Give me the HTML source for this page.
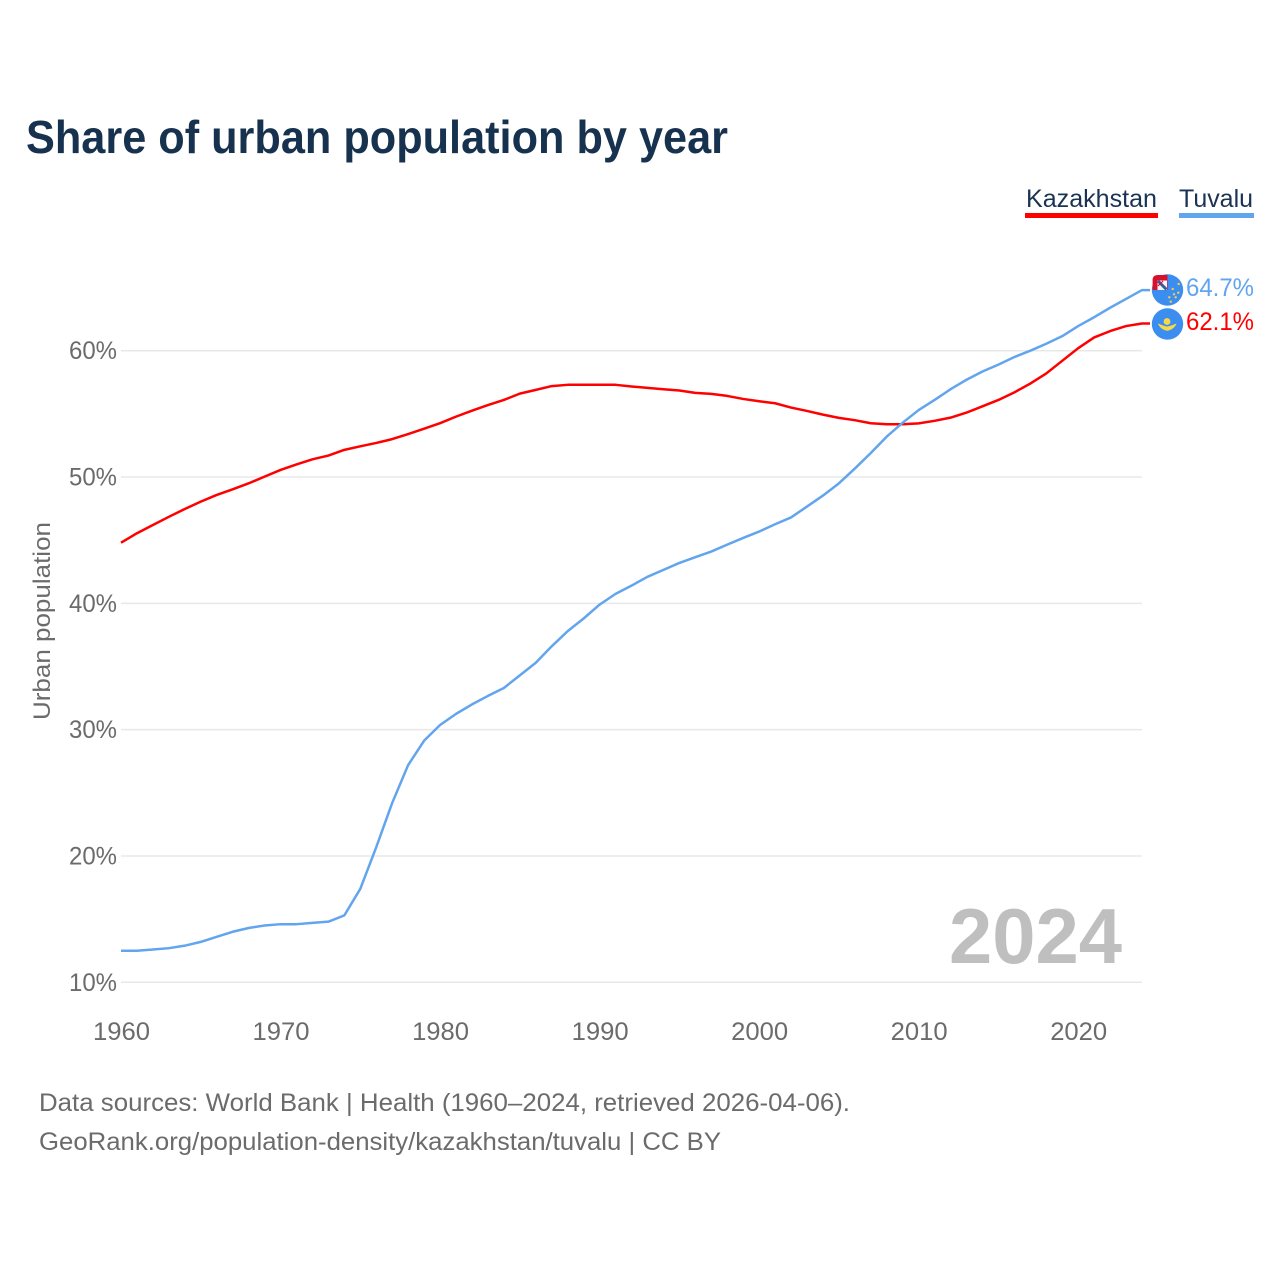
<!DOCTYPE html>
<html lang="en">
<head>
<meta charset="utf-8">
<title>Share of urban population by year</title>
<style>
html,body{margin:0;padding:0;background:#fff;}
svg{display:block;}
text{font-family:"Liberation Sans",sans-serif;}
</style>
</head>
<body>
<svg id="chart" width="1280" height="1280" viewBox="0 0 1280 1280" xmlns="http://www.w3.org/2000/svg">
  <defs>
    <clipPath id="clip-tv"><circle cx="1167.5" cy="290" r="15.7"/></clipPath>
    <clipPath id="clip-kz"><circle cx="1167.5" cy="324" r="15.7"/></clipPath>
  </defs>
  <text x="26" y="153" font-size="46" font-weight="700" fill="#17324f" textLength="702" lengthAdjust="spacingAndGlyphs">Share of urban population by year</text>

  <g>
    <text x="1026" y="207" font-size="25" fill="#1a3353" textLength="131" lengthAdjust="spacingAndGlyphs">Kazakhstan</text>
    <rect x="1025" y="213" width="133" height="5" fill="#ff0000"/>
  </g>
  <g>
    <text x="1179" y="207" font-size="25" fill="#1a3353" textLength="74" lengthAdjust="spacingAndGlyphs">Tuvalu</text>
    <rect x="1179" y="213" width="75" height="5" fill="#62a5ee"/>
  </g>

  <g id="grid"></g>
  <g id="y-ticks"></g>
  <g id="x-ticks"></g>
  <text transform="translate(50,621) rotate(-90)" text-anchor="middle" font-size="24" fill="#6b6b6b" textLength="198" lengthAdjust="spacingAndGlyphs">Urban population</text>

  <text x="1122" y="963" text-anchor="end" font-size="78" font-weight="700" fill="#bfbfbf" textLength="173" lengthAdjust="spacingAndGlyphs">2024</text>

  <g id="series"></g>

  <g>
    <circle cx="1167.5" cy="290" r="15.7" fill="#3b8ef0"/>
    <path d="M1152.6 290V280Q1152.6 275 1158 275H1167.5V290Z" fill="#d8102c"/>
    <rect x="1157.5" y="280.5" width="9.5" height="9.5" fill="#f4f4f8"/>
    <path d="M1158 281L1166.5 289.5" stroke="#3a5a9a" stroke-width="3"/>
    <path d="M1163 281L1158 286" stroke="#d8102c" stroke-width="1.2"/>
    <g fill="#f2cf4a" clip-path="url(#clip-tv)">
      <circle cx="1178.7" cy="284" r="1.2"/><circle cx="1172.7" cy="289" r="1.2"/><circle cx="1178.3" cy="292.7" r="1.2"/>
      <circle cx="1174" cy="294.3" r="1.2"/><circle cx="1169.3" cy="297.3" r="1.2"/><circle cx="1175.7" cy="297.3" r="1.2"/>
      <circle cx="1170.7" cy="301.7" r="1.2"/>
    </g>
  </g>
  <g>
    <circle cx="1167.5" cy="324" r="15.7" fill="#3b8ef0"/>
    <circle cx="1167" cy="321.5" r="3.4" fill="#f7d84a"/>
    <path d="M1158 323.5C1161 324.5 1164 326 1167.2 326.5C1170.5 326 1173.5 324.5 1176.5 323.5C1175 328 1171 330 1167.2 330.8C1163.5 330 1159.5 328 1158 323.5Z" fill="#f7d84a"/>
  </g>

  <text x="1186" y="296" font-size="25" fill="#62a5ee" textLength="68" lengthAdjust="spacingAndGlyphs">64.7%</text>
  <text x="1186" y="330" font-size="25" fill="#ff0000" textLength="68" lengthAdjust="spacingAndGlyphs">62.1%</text>

  <text x="39" y="1111" font-size="25" fill="#6b6b6b" textLength="811" lengthAdjust="spacingAndGlyphs">Data sources: World Bank | Health (1960–2024, retrieved 2026-04-06).</text>
  <text x="39" y="1150" font-size="25" fill="#6b6b6b" textLength="682" lengthAdjust="spacingAndGlyphs">GeoRank.org/population-density/kazakhstan/tuvalu | CC BY</text>
</svg>
<script>
const startYear = 1960;
const yTickValues = [10, 20, 30, 40, 50, 60];
const xTickValues = [1960, 1970, 1980, 1990, 2000, 2010, 2020];
const kazakhstanValues = [44.8,45.55,46.2,46.85,47.47,48.05,48.58,49.03,49.5,50.03,50.56,51.0,51.4,51.7,52.15,52.43,52.7,53.0,53.4,53.83,54.26,54.78,55.25,55.7,56.1,56.6,56.9,57.2,57.3,57.3,57.3,57.3,57.17,57.06,56.95,56.85,56.66,56.58,56.42,56.18,56.0,55.84,55.5,55.23,54.94,54.68,54.5,54.26,54.18,54.18,54.25,54.45,54.7,55.1,55.6,56.1,56.7,57.4,58.2,59.2,60.2,61.05,61.55,61.95,62.15];
const tuvaluValues = [12.5,12.5,12.6,12.7,12.9,13.2,13.6,14.0,14.3,14.5,14.6,14.6,14.7,14.8,15.3,17.4,20.7,24.2,27.2,29.13,30.37,31.25,32.0,32.67,33.3,34.3,35.3,36.6,37.8,38.8,39.9,40.75,41.4,42.1,42.65,43.2,43.65,44.1,44.65,45.18,45.68,46.26,46.8,47.66,48.53,49.5,50.67,51.9,53.2,54.3,55.3,56.1,56.95,57.7,58.35,58.9,59.5,60.0,60.55,61.15,61.95,62.65,63.4,64.1,64.8];

const SVG_NS = 'http://www.w3.org/2000/svg';
function xScale(year) { return 121 + (year - 1960) * (1142 - 121) / 64; }
function yScale(pct) { return 982.3 - (pct - 10) * (982.3 - 350.7) / 50; }

const gridGroup = document.getElementById('grid');
const yTickGroup = document.getElementById('y-ticks');
const xTickGroup = document.getElementById('x-ticks');
const seriesGroup = document.getElementById('series');

yTickValues.forEach(function (v) {
  const line = document.createElementNS(SVG_NS, 'line');
  
  
  line.setAttribute('x1', 121);
  line.setAttribute('x2', 1142);
  line.setAttribute('y1', yScale(v));
  line.setAttribute('y2', yScale(v));
  line.setAttribute('stroke', '#e8e8e8');
  line.setAttribute('stroke-width', 1.5);
  gridGroup.appendChild(line);

  const label = document.createElementNS(SVG_NS, 'text');
  
  
  label.setAttribute('x', 117);
  label.setAttribute('y', yScale(v) + 8.5);
  label.setAttribute('text-anchor', 'end');
  label.setAttribute('font-size', 25);
  label.setAttribute('fill', '#6b6b6b');
  label.setAttribute('textLength', 48);
  label.setAttribute('lengthAdjust', 'spacingAndGlyphs');
  label.textContent = v + '%';
  yTickGroup.appendChild(label);
});

xTickValues.forEach(function (year) {
  const label = document.createElementNS(SVG_NS, 'text');
  
  
  label.setAttribute('x', xScale(year) + 0.5);
  label.setAttribute('y', 1040);
  label.setAttribute('text-anchor', 'middle');
  label.setAttribute('font-size', 25);
  label.setAttribute('fill', '#6b6b6b');
  label.setAttribute('textLength', 57);
  label.setAttribute('lengthAdjust', 'spacingAndGlyphs');
  label.textContent = year;
  xTickGroup.appendChild(label);
});

function drawSeries(values, color, name) {
  const pts = values.map(function (v, i) {
    return xScale(startYear + i).toFixed(2) + ',' + yScale(v).toFixed(2);
  });
  const last = values[values.length - 1];
  pts.push('1150,' + yScale(last).toFixed(2));
  const line = document.createElementNS(SVG_NS, 'polyline');
  
  
  line.setAttribute('points', pts.join(' '));
  line.setAttribute('fill', 'none');
  line.setAttribute('stroke', color);
  line.setAttribute('stroke-width', 2.5);
  line.setAttribute('stroke-linejoin', 'round');
  seriesGroup.appendChild(line);
}
drawSeries(kazakhstanValues, '#ff0000', 'line-kazakhstan');
drawSeries(tuvaluValues, '#62a5ee', 'line-tuvalu');
</script>
</body>
</html>
